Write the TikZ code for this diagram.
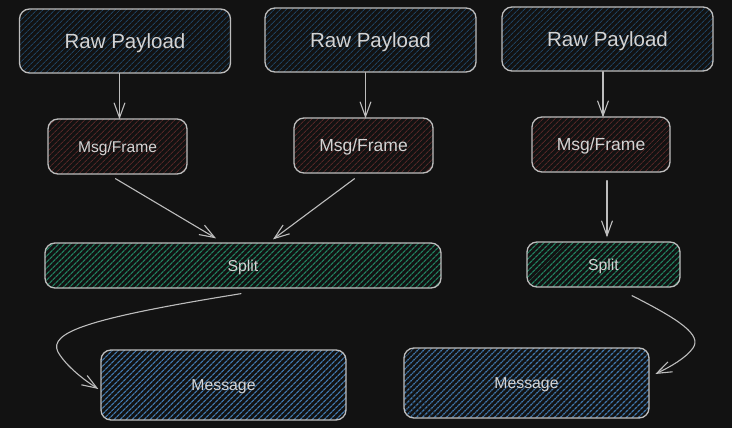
\documentclass[tikz,border=0pt]{standalone}
\usepackage{fontspec}
\setmainfont{Liberation Sans}
\usetikzlibrary{arrows.meta,patterns.meta}
\definecolor{bg}{HTML}{121212}
\definecolor{edge}{HTML}{BDBDBD}
\definecolor{txt}{HTML}{D4D4D4}
\definecolor{rawc}{HTML}{1E4260}
\definecolor{framec}{HTML}{552626}
\definecolor{splitc}{HTML}{21805F}
\definecolor{msgc}{HTML}{4178AE}
\tikzset{
  box/.style={draw=edge,line width=1.3pt,rounded corners=10pt,text=txt,inner sep=0pt,text depth=0pt},
  raw/.style={box,minimum width=211pt,minimum height=64pt,font=\fontsize{20.5}{24}\selectfont,text height=14.7pt,
    pattern={Lines[angle=45,distance=4pt,line width=1pt]},pattern color=rawc},
  frame/.style={box,minimum width=139pt,minimum height=55pt,font=\fontsize{17.5}{21}\selectfont,text height=12.6pt,
    pattern={Lines[angle=45,distance=4pt,line width=1pt]},pattern color=framec},
  splitbox/.style={box,minimum height=45pt,font=\fontsize{15.8}{19}\selectfont,text height=11.4pt,
    pattern={Lines[angle=45,distance=4pt,line width=1.3pt]},pattern color=splitc},
  msgbox/.style={box,minimum width=245pt,minimum height=70pt,font=\fontsize{15.8}{19}\selectfont,text height=11.4pt,
    pattern={Lines[angle=45,distance=4pt,line width=1.3pt]},pattern color=msgc},
  msgcross/.style={box,minimum width=245pt,minimum height=70pt,font=\fontsize{15.8}{19}\selectfont,text height=11.4pt,
    preaction={pattern={Lines[angle=45,distance=4pt,line width=1.5pt]},pattern color=msgc},
    pattern={Lines[angle=-45,distance=4pt,line width=0.6pt]},pattern color=bg},
  arr/.style={draw=edge,line width=1.1pt,line cap=round,-{Straight Barb[angle=40:16pt,line width=1.1pt]}}
}
\begin{document}
\begin{tikzpicture}[x=1pt,y=-1pt]
\fill[bg] (0,0) rectangle (732,428);
\useasboundingbox (0,0) rectangle (732,428);
\node[raw] (r1) at (125,41) {Raw Payload};
\node[raw] (r2) at (370.5,40) {Raw Payload};
\node[raw] (r3) at (607.5,39) {Raw Payload};
\node[frame,font=\fontsize{15.6}{19}\selectfont,text height=11.2pt] (m1) at (117.5,146.5) {Msg/Frame};
\node[frame] (m2) at (363.5,145.5) {Msg/Frame};
\node[frame,minimum width=138pt] (m3) at (601,144.5) {Msg/Frame};
\node[splitbox,minimum width=396pt] (s1) at (243,265.5) {Split};
\node[splitbox,minimum width=153pt] (s2) at (603.5,264.5) {Split};
\node[msgbox] (g1) at (223.5,385) {Message};
\node[msgcross] (g2) at (526.5,383) {Message};
\foreach \i in {1,2,3} {
    \draw[arr] ([xshift=2pt]r\i.south -| m\i.north) -- ([xshift=2pt,yshift=-1pt]m\i.north);
}
\draw[arr] ([shift={(-2,4)}]m1.south) -- ([shift={(-27,-4)}]s1.north);
\draw[arr] ([shift={(-9,5)}]m2.south) -- ([shift={(30,-3)}]s1.north);
\draw[arr] ([shift={(6,8)}]m3.south) -- ([shift={(3.5,-4)}]s2.north);
\draw[arr] ([shift={(-2,5)}]s1.south) .. controls (90,318) and (48,332) .. (58,352)
    .. controls (66,366) and (84,380) .. ([shift={(-2,4)}]g1.west);
\draw[arr] ([shift={(28.5,8)}]s2.south) .. controls (680,320) and (702,335) .. (693,348)
    .. controls (686,358) and (670,367) .. ([shift={(6,-9)}]g2.east);
\end{tikzpicture}
\end{document}
